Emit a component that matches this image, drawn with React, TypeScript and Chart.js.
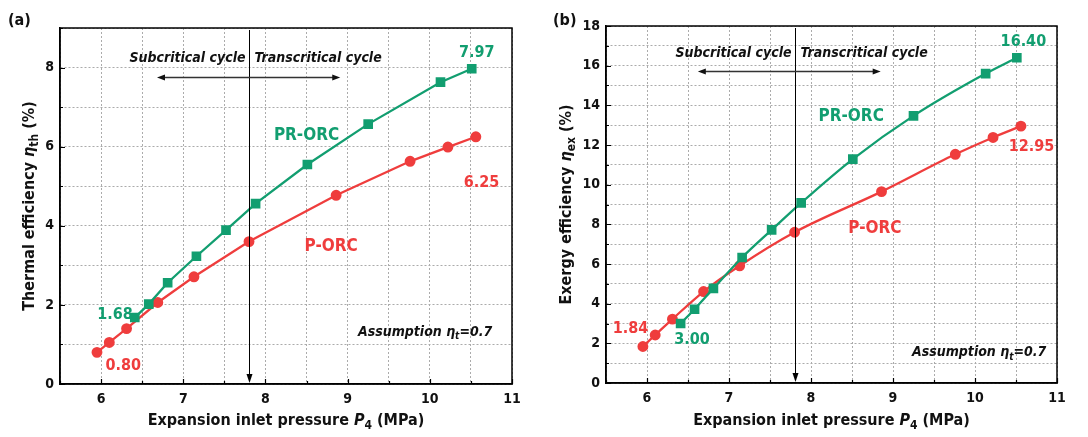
import React, { useEffect, useRef } from 'react';
import { Chart, registerables } from 'chart.js';

Chart.register(...registerables);

// ---------- data ----------
const pressurePR = [6.41, 6.58, 6.81, 7.16, 7.52, 7.88, 8.51, 9.25, 10.13, 10.51];
const pressureP = [5.95, 6.1, 6.31, 6.69, 7.13, 7.8, 8.86, 9.76, 10.22, 10.56];
const thermalPR = [1.68, 2.02, 2.56, 3.23, 3.89, 4.56, 5.55, 6.57, 7.63, 7.97];
const thermalP = [0.8, 1.05, 1.4, 2.06, 2.71, 3.6, 4.77, 5.63, 5.99, 6.25];
const exergyPR = [3.0, 3.72, 4.77, 6.33, 7.72, 9.08, 11.29, 13.47, 15.6, 16.4];
const exergyP = [1.84, 2.42, 3.22, 4.61, 5.91, 7.6, 9.65, 11.53, 12.38, 12.95];
const xTickLabels = [6, 7, 8, 9, 10, 11];
const yTickLabelsA = [0, 2, 4, 6, 8];
const yTickLabelsB = [0, 2, 4, 6, 8, 10, 12, 14, 16, 18];
const criticalPressure = 7.8;

const GREEN = '#129E70';
const RED = '#EF3D3D';
const FAMILY = "'DejaVu Sans Condensed', 'DejaVu Sans', sans-serif";

type Seg = { t: string; italic?: boolean; sub?: boolean };

function segFont(s: Seg, size: number) {
  const sz = s.sub ? Math.round(size * 0.72) : size;
  return `${s.italic ? 'italic ' : ''}bold ${sz}px ${FAMILY}`;
}

function drawRich(ctx: CanvasRenderingContext2D, segs: Seg[], x: number, y: number, size: number, align: string, color: string) {
  ctx.save();
  ctx.textBaseline = 'middle';
  ctx.textAlign = 'left';
  ctx.fillStyle = color;
  let total = 0;
  const widths = segs.map((s) => {
    ctx.font = segFont(s, size);
    const w = ctx.measureText(s.t).width;
    total += w;
    return w;
  });
  let cx = align === 'center' ? x - total / 2 : align === 'right' ? x - total : x;
  segs.forEach((s, i) => {
    ctx.font = segFont(s, size);
    ctx.fillText(s.t, cx, s.sub ? y + size * 0.32 : y);
    cx += widths[i];
  });
  ctx.restore();
}

type Note = { segs: Seg[]; x: number; y: number; size: number; align: string; color: string };

type Spec = {
  panel: string;
  width: number;
  yMax: number;
  yLabels: number[];
  pr: number[];
  p: number[];
  smooth: boolean;
  yTitle: Seg[];
  yTitleX: number;
  padTop: number;
  padRight: number;
  yAxisWidth: number;
  xAxisHeight: number;
  arrowY: number;
  arrowX1: number;
  arrowX2: number;
  cycleY: number;
  notes: Note[];
};

const xTitle: Seg[] = [{ t: 'Expansion inlet pressure ' }, { t: 'P', italic: true }, { t: '4', sub: true }, { t: ' (MPa)' }];

function assumption(): Seg[] {
  return [{ t: 'Assumption ', italic: true }, { t: 'η', italic: true }, { t: 't', italic: true, sub: true }, { t: '=0.7', italic: true }];
}

const specA: Spec = {
  panel: '(a)',
  width: 545,
  yMax: 9,
  yLabels: yTickLabelsA,
  pr: thermalPR,
  p: thermalP,
  smooth: false,
  yTitle: [{ t: 'Thermal efficiency ' }, { t: 'η', italic: true }, { t: 'th', sub: true }, { t: ' (%)' }],
  yTitleX: 30,
  padTop: 28,
  padRight: 33,
  yAxisWidth: 60,
  xAxisHeight: 53,
  arrowY: 7.75,
  arrowX1: 6.68,
  arrowX2: 8.91,
  cycleY: 8.22,
  notes: [
    { segs: [{ t: '7.97' }], x: 10.57, y: 8.38, size: 16, align: 'center', color: GREEN },
    { segs: [{ t: '6.25' }], x: 10.63, y: 5.08, size: 16, align: 'center', color: RED },
    { segs: [{ t: '1.68' }], x: 6.17, y: 1.75, size: 16, align: 'center', color: GREEN },
    { segs: [{ t: '0.80' }], x: 6.27, y: 0.46, size: 16, align: 'center', color: RED },
    { segs: [{ t: 'PR-ORC' }], x: 8.5, y: 6.27, size: 17, align: 'center', color: GREEN },
    { segs: [{ t: 'P-ORC' }], x: 8.8, y: 3.47, size: 17, align: 'center', color: RED },
    { segs: assumption(), x: 10.76, y: 1.31, size: 14, align: 'right', color: '#111' },
  ],
};

const specB: Spec = {
  panel: '(b)',
  width: 543,
  yMax: 18,
  yLabels: yTickLabelsB,
  pr: exergyPR,
  p: exergyP,
  smooth: true,
  yTitle: [{ t: 'Exergy efficiency ' }, { t: 'η', italic: true }, { t: 'ex', sub: true }, { t: ' (%)' }],
  yTitleX: 22,
  padTop: 26,
  padRight: 31,
  yAxisWidth: 61,
  xAxisHeight: 54,
  arrowY: 15.75,
  arrowX1: 6.62,
  arrowX2: 8.85,
  cycleY: 16.6,
  notes: [
    { segs: [{ t: '16.40' }], x: 10.59, y: 17.2, size: 16, align: 'center', color: GREEN },
    { segs: [{ t: '12.95' }], x: 10.69, y: 11.9, size: 16, align: 'center', color: RED },
    { segs: [{ t: '1.84' }], x: 5.8, y: 2.72, size: 16, align: 'center', color: RED },
    { segs: [{ t: '3.00' }], x: 6.55, y: 2.2, size: 16, align: 'center', color: GREEN },
    { segs: [{ t: 'PR-ORC' }], x: 8.49, y: 13.42, size: 17, align: 'center', color: GREEN },
    { segs: [{ t: 'P-ORC' }], x: 8.78, y: 7.8, size: 17, align: 'center', color: RED },
    { segs: assumption(), x: 10.87, y: 1.54, size: 14, align: 'right', color: '#111' },
  ],
};

function makeDecor(spec: Spec) {
  return {
    id: 'decor' + spec.panel,
    afterDatasetsDraw(chart: any) {
      const ctx: CanvasRenderingContext2D = chart.ctx;
      const xs = chart.scales.x;
      const ys = chart.scales.y;
      const area = chart.chartArea;
      ctx.save();
      // critical pressure vertical line with arrow
      const vx = Math.round(xs.getPixelForValue(criticalPressure)) + 0.5;
      ctx.strokeStyle = '#000';
      ctx.fillStyle = '#000';
      ctx.lineWidth = 1;
      ctx.beginPath();
      ctx.moveTo(vx, area.top + 2);
      ctx.lineTo(vx, area.bottom - 8);
      ctx.stroke();
      ctx.beginPath();
      ctx.moveTo(vx - 3, area.bottom - 10);
      ctx.lineTo(vx + 3, area.bottom - 10);
      ctx.lineTo(vx, area.bottom - 1);
      ctx.closePath();
      ctx.fill();
      // horizontal double arrow
      const ay = Math.round(ys.getPixelForValue(spec.arrowY)) + 0.5;
      const x1 = xs.getPixelForValue(spec.arrowX1);
      const x2 = xs.getPixelForValue(spec.arrowX2);
      ctx.strokeStyle = '#333';
      ctx.fillStyle = '#111';
      ctx.lineWidth = 1.3;
      ctx.beginPath();
      ctx.moveTo(x1 + 6, ay);
      ctx.lineTo(x2 - 6, ay);
      ctx.stroke();
      ctx.beginPath();
      ctx.moveTo(x1, ay);
      ctx.lineTo(x1 + 8, ay - 3);
      ctx.lineTo(x1 + 8, ay + 3);
      ctx.closePath();
      ctx.fill();
      ctx.beginPath();
      ctx.moveTo(x2, ay);
      ctx.lineTo(x2 - 8, ay - 3);
      ctx.lineTo(x2 - 8, ay + 3);
      ctx.closePath();
      ctx.fill();
      // cycle labels
      const cy = ys.getPixelForValue(spec.cycleY);
      drawRich(ctx, [{ t: 'Subcritical cycle', italic: true }], vx - 4, cy, 14, 'right', '#111');
      drawRich(ctx, [{ t: 'Transcritical cycle', italic: true }], vx + 5, cy, 14, 'left', '#111');
      // notes
      spec.notes.forEach((n) => {
        drawRich(ctx, n.segs, xs.getPixelForValue(n.x), ys.getPixelForValue(n.y), n.size, n.align, n.color);
      });
      ctx.restore();
    },
    afterDraw(chart: any) {
      const ctx: CanvasRenderingContext2D = chart.ctx;
      const xs = chart.scales.x;
      const ys = chart.scales.y;
      const area = chart.chartArea;
      ctx.save();
      // inward tick marks
      ctx.strokeStyle = '#000';
      ctx.lineWidth = 1.2;
      ctx.beginPath();
      xs.ticks.forEach((t: any) => {
        const px = Math.round(xs.getPixelForValue(t.value)) + 0.5;
        const len = Number.isInteger(t.value) ? 5 : 3;
        ctx.moveTo(px, area.bottom);
        ctx.lineTo(px, area.bottom - len);
      });
      ys.ticks.forEach((t: any) => {
        const py = Math.round(ys.getPixelForValue(t.value)) + 0.5;
        const len = spec.yLabels.includes(t.value) ? 5 : 3;
        ctx.moveTo(area.left, py);
        ctx.lineTo(area.left + len, py);
      });
      ctx.stroke();
      ctx.lineWidth = 1.5;
      ctx.strokeRect(area.left, area.top, area.right - area.left, area.bottom - area.top);
      // axis titles
      drawRich(ctx, xTitle, (area.left + area.right) / 2, 421, 16, 'center', '#111');
      ctx.translate(spec.yTitleX, (area.top + area.bottom) / 2);
      ctx.rotate(-Math.PI / 2);
      drawRich(ctx, spec.yTitle, 0, 0, 16, 'center', '#111');
      ctx.restore();
      drawRich(ctx, [{ t: spec.panel }], 8, 21, 16, 'left', '#111');
    },
  };
}

function makeConfig(spec: Spec): any {
  const tickFont = { family: FAMILY, size: 14, weight: 'bold' as const };
  const lineOpts = spec.smooth ? { cubicInterpolationMode: 'monotone' } : { tension: 0 };
  return {
    type: 'line',
    data: {
      datasets: [
        {
          label: 'PR-ORC',
          data: pressurePR.map((x, i) => ({ x, y: spec.pr[i] })),
          borderColor: GREEN,
          backgroundColor: GREEN,
          borderWidth: 2.3,
          pointStyle: 'rect',
          pointRadius: 5.2,
          ...lineOpts,
        },
        {
          label: 'P-ORC',
          data: pressureP.map((x, i) => ({ x, y: spec.p[i] })),
          borderColor: RED,
          backgroundColor: RED,
          borderWidth: 2.3,
          pointStyle: 'circle',
          pointRadius: 4.3,
          ...lineOpts,
        },
      ],
    },
    options: {
      animation: false,
      responsive: false,
      devicePixelRatio: 1,
      layout: { padding: { left: 0, right: spec.padRight, top: spec.padTop, bottom: 0 } },
      plugins: { legend: { display: false }, tooltip: { enabled: false }, title: { display: false } },
      scales: {
        x: {
          type: 'linear',
          min: 5.5,
          max: 11,
          afterFit: (s: any) => {
            s.height = spec.xAxisHeight;
          },
          ticks: {
            stepSize: 0.5,
            autoSkip: false,
            maxRotation: 0,
            padding: 7,
            color: '#111',
            font: tickFont,
            callback: (v: any) => (xTickLabels.includes(Number(v)) ? String(v) : ''),
          },
          grid: { color: '#ababab', lineWidth: 1, drawTicks: false },
          border: { display: true, color: '#000', width: 1.5, dash: [2, 2] },
        },
        y: {
          type: 'linear',
          min: 0,
          max: spec.yMax,
          afterFit: (s: any) => {
            s.width = spec.yAxisWidth;
          },
          ticks: {
            stepSize: 1,
            autoSkip: false,
            padding: 6,
            color: '#111',
            font: tickFont,
            callback: (v: any) => (spec.yLabels.includes(Number(v)) ? String(v) : ''),
          },
          grid: { color: '#ababab', lineWidth: 1, drawTicks: false },
          border: { display: true, color: '#000', width: 1.5, dash: [2, 2] },
        },
      },
    },
    plugins: [makeDecor(spec)],
  };
}

function Panel({ spec, left }: { spec: Spec; left: number }) {
  const ref = useRef<HTMLCanvasElement | null>(null);
  useEffect(() => {
    if (!ref.current) return;
    const chart = new Chart(ref.current, makeConfig(spec));
    return () => chart.destroy();
  }, [spec]);
  return (
    <canvas
      ref={ref}
      width={spec.width}
      height={437}
      style={{ position: 'absolute', left, top: 0, width: spec.width, height: 437 }}
    />
  );
}

export default function App() {
  return (
    <div style={{ position: 'absolute', left: 0, top: 0, width: 1088, height: 437, background: '#fff' }}>
      <Panel spec={specA} left={0} />
      <Panel spec={specB} left={545} />
    </div>
  );
}
